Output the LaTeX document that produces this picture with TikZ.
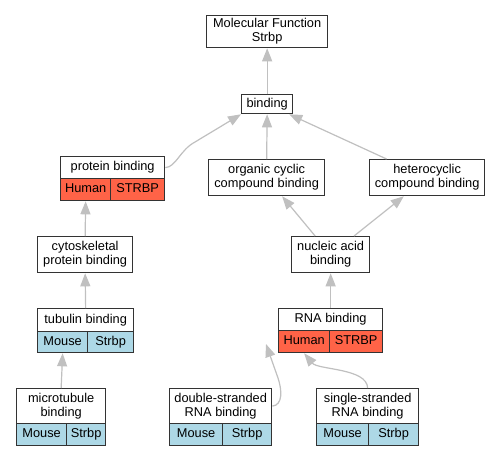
\documentclass[tikz,border=0pt]{standalone}
\usepackage{fontspec}
\setmainfont{Liberation Sans}
\usetikzlibrary{arrows.meta}
\definecolor{humanc}{HTML}{FF6347}
\definecolor{mousec}{HTML}{ADD8E6}
\definecolor{edgec}{HTML}{C0C0C0}
\definecolor{borderc}{HTML}{333333}
\tikzset{
  gobox/.style={draw=borderc, line width=1.3pt, fill=white, inner sep=0pt, align=center,
    font=\fontsize{12.8}{14}\selectfont, anchor=north west},
  oneline/.style={text height=9.3pt, text depth=2.7pt},
  humancell/.style={gobox, oneline, fill=humanc},
  mousecell/.style={gobox, oneline, fill=mousec},
  goedge/.style={draw=edgec, line width=1.2pt, -{Triangle[length=13pt,width=10pt]}}
}
\begin{document}
\begin{tikzpicture}[x=1pt,y=-1pt]
\useasboundingbox[fill=white] (0,0) rectangle (500,456);
% single boxes
\node[gobox, minimum width=121pt, minimum height=32pt] (mf) at (206,15) {Molecular Function\\Strbp};
\node[gobox, oneline, minimum width=51pt, minimum height=19pt] (binding) at (241,94) {binding};
\node[gobox, minimum width=116pt, minimum height=36pt] (organic) at (208,159) {organic cyclic\\compound binding};
\node[gobox, minimum width=115pt, minimum height=36pt] (hetero) at (369,159) {heterocyclic\\compound binding};
\node[gobox, minimum width=95pt, minimum height=36pt] (cyto) at (37,236) {cytoskeletal\\protein binding};
\node[gobox, minimum width=78pt, minimum height=36pt] (nucleic) at (291,236) {nucleic acid\\binding};
% protein binding
\node[gobox, oneline, minimum width=104pt, minimum height=22pt] (prot) at (60,156) {protein binding};
\node[humancell, minimum width=50pt, minimum height=22pt] (protH) at (60,178) {Human};
\node[humancell, minimum width=54pt, minimum height=22pt] (protS) at (110,178) {STRBP};
% tubulin binding
\node[gobox, oneline, minimum width=96pt, minimum height=23pt] (tub) at (37,308) {tubulin binding};
\node[mousecell, minimum width=50pt, minimum height=21pt] (tubM) at (37,331) {Mouse};
\node[mousecell, minimum width=46pt, minimum height=21pt] (tubS) at (87,331) {Strbp};
% RNA binding
\node[gobox, oneline, minimum width=104pt, minimum height=22pt] (rna) at (278,308) {RNA binding};
\node[humancell, minimum width=51pt, minimum height=22pt] (rnaH) at (278,330) {Human};
\node[humancell, minimum width=53pt, minimum height=22pt] (rnaS) at (329,330) {STRBP};
% microtubule binding
\node[gobox, minimum width=89pt, minimum height=35pt] (micro) at (16,388) {microtubule\\binding};
\node[mousecell, minimum width=50pt, minimum height=22pt] (microM) at (16,423) {Mouse};
\node[mousecell, minimum width=39pt, minimum height=22pt] (microS) at (66,423) {Strbp};
% double-stranded
\node[gobox, minimum width=102pt, minimum height=35pt] (dbl) at (169,388) {double-stranded\\RNA binding};
\node[mousecell, minimum width=53pt, minimum height=22pt] (dblM) at (169,423) {Mouse};
\node[mousecell, minimum width=49pt, minimum height=22pt] (dblS) at (222,423) {Strbp};
% single-stranded
\node[gobox, minimum width=102pt, minimum height=35pt] (sgl) at (316,388) {single-stranded\\RNA binding};
\node[mousecell, minimum width=52pt, minimum height=22pt] (sglM) at (316,423) {Mouse};
\node[mousecell, minimum width=50pt, minimum height=22pt] (sglS) at (368,423) {Strbp};
% waypoints
\coordinate (pbw) at (195,142);
\coordinate (dsw) at (278,378);
\coordinate (dst) at (266,344);
% edges
\draw[goedge] (binding.north) -- (mf.south);
\draw[goedge] (organic.north) -- (binding.south);
\draw[goedge] (hetero) -- (binding);
\draw[goedge] (prot.east) .. controls (176,167) and (180,150) .. (pbw) -- (binding.south west);
\draw[goedge] (nucleic) -- (organic);
\draw[goedge] (nucleic) -- (hetero);
\draw[goedge] (rna.north) -- (nucleic.south);
\draw[goedge] (cyto.north) -- (protH.south);
\draw[goedge] (tub.north) -- (cyto.south);
\draw[goedge] (micro.north) -- (tubM.south);
\draw[goedge] (dbl.east) .. controls (283,405) and (282,390) .. (dsw) -- (dst);
\draw[goedge] (sgl.north) .. controls (367,368) and (318,370) .. (rnaH.south);
\end{tikzpicture}
\end{document}
